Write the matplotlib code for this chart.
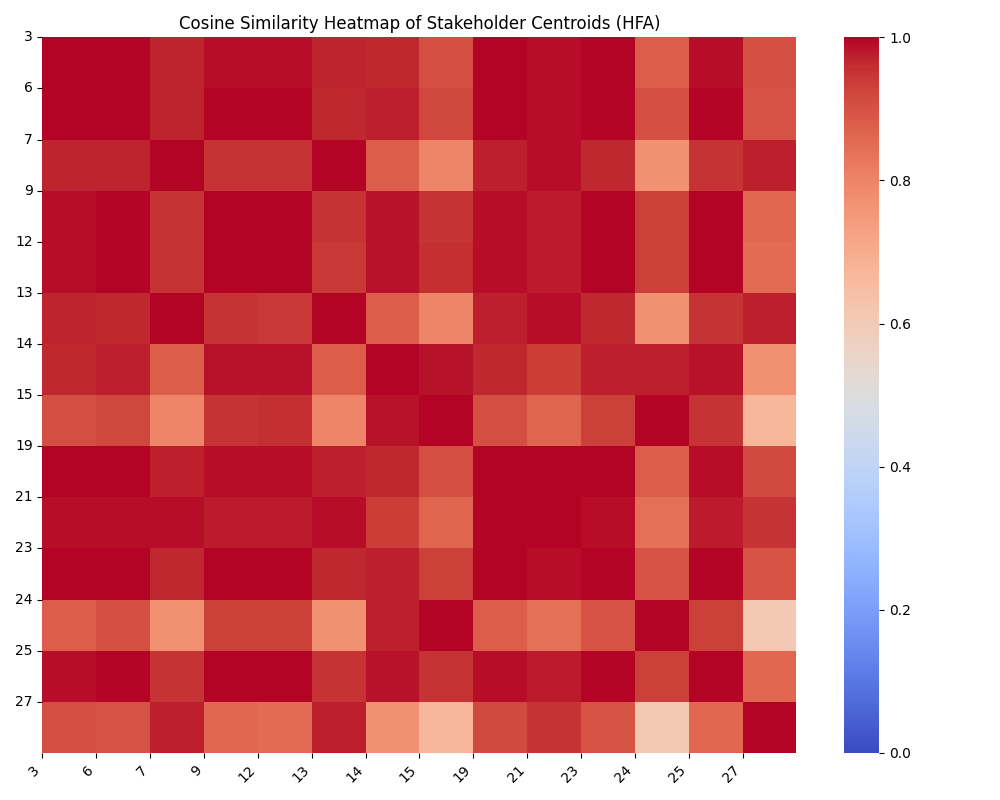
import numpy as np
import pandas as pd
import matplotlib
matplotlib.use("Agg")
import matplotlib.pyplot as plt
import seaborn as sns

# stakeholder ids
labels = [3, 6, 7, 9, 12, 13, 14, 15, 19, 21, 23, 24, 25, 27]

# upper triangle, row by row
row_3  = [1.00, 1.00, 0.97, 0.99, 0.99, 0.97, 0.965, 0.91, 1.00, 0.99, 1.00, 0.88, 0.99, 0.91]
row_6  = [1.00, 0.97, 1.00, 1.00, 0.965, 0.975, 0.92, 1.00, 0.99, 1.00, 0.905, 1.00, 0.90]
row_7  = [1.00, 0.95, 0.95, 1.00, 0.88, 0.80, 0.975, 0.99, 0.965, 0.77, 0.95, 0.975]
row_9  = [1.00, 1.00, 0.95, 0.985, 0.95, 0.99, 0.98, 1.00, 0.93, 1.00, 0.86]
row_12 = [1.00, 0.945, 0.985, 0.955, 0.99, 0.98, 1.00, 0.93, 1.00, 0.855]
row_13 = [1.00, 0.88, 0.80, 0.975, 0.99, 0.965, 0.77, 0.95, 0.975]
row_14 = [1.00, 0.985, 0.965, 0.935, 0.975, 0.975, 0.985, 0.77]
row_15 = [1.00, 0.91, 0.865, 0.93, 1.00, 0.95, 0.67]
row_19 = [1.00, 1.00, 1.00, 0.88, 0.99, 0.915]
row_21 = [1.00, 0.99, 0.84, 0.98, 0.95]
row_23 = [1.00, 0.90, 1.00, 0.895]
row_24 = [1.00, 0.93, 0.61]
row_25 = [1.00, 0.86]
row_27 = [1.00]

rows = [row_3, row_6, row_7, row_9, row_12, row_13, row_14,
        row_15, row_19, row_21, row_23, row_24, row_25, row_27]

n = len(labels)
sim = np.zeros((n, n))
for i, r in enumerate(rows):
    sim[i, i:] = r
sim = np.triu(sim) + np.triu(sim, 1).T

df = pd.DataFrame(sim, index=labels, columns=labels)

fig, ax = plt.subplots(figsize=(10, 8))
sns.heatmap(df, cmap="coolwarm", vmin=0, vmax=1, ax=ax)

# labels sit on the cell edges
ax.set_xticks(np.arange(n))
ax.set_xticklabels(labels, rotation=45, ha="right")
ax.set_yticks(np.arange(n))
ax.set_yticklabels(labels, rotation=0)

ax.set_title("Cosine Similarity Heatmap of Stakeholder Centroids (HFA)")
plt.tight_layout()
plt.savefig("out.png", dpi=100)
